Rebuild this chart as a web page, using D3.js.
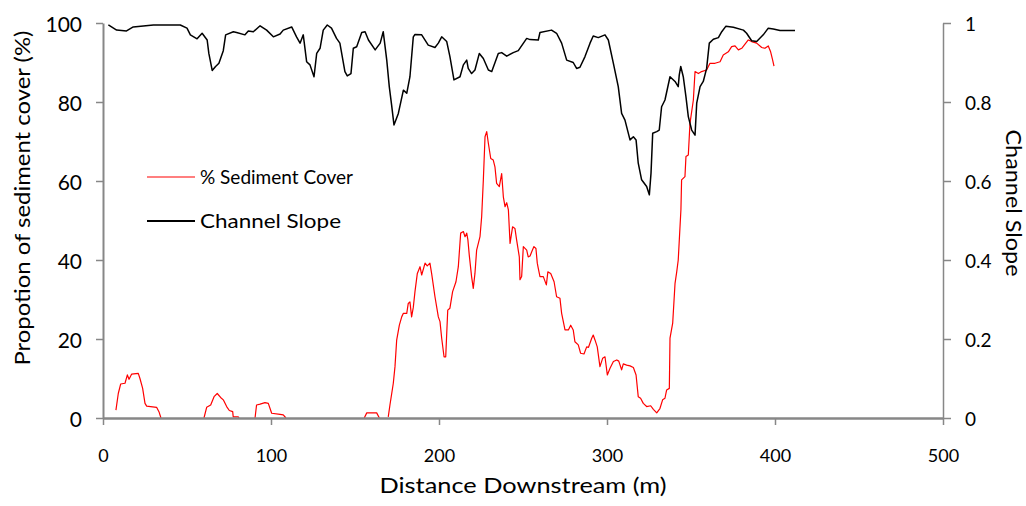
<!DOCTYPE html>
<html>
<head>
<meta charset="utf-8">
<script src="https://cdn.jsdelivr.net/npm/d3@7"></script>
<style>
  html, body { margin: 0; padding: 0; background: #fff; }
  svg { display: block; font-family: Lato, "Open Sans", sans-serif; }
</style>
</head>
<body>
<svg id="chart" width="1026" height="506"></svg>
<script>
// ---------- DATA ----------
const xTicks = [0, 100, 200, 300, 400, 500];
const xTickLabels = ["0", "100", "200", "300", "400", "500"];
const leftTicks = [0, 20, 40, 60, 80, 100];
const leftTickLabels = ["0", "20", "40", "60", "80", "100"];
const rightTicks = [0, 0.2, 0.4, 0.6, 0.8, 1];
const rightTickLabels = ["0", "0.2", "0.4", "0.6", "0.8", "1"];

const seriesNames = ["% Sediment Cover", "Channel Slope"];
const xTitle = "Distance Downstream (m)";
const leftTitle = "Propotion of sediment cover (%)";
const rightTitle = "Channel Slope";

// % Sediment Cover (left axis); null = no cover recorded (line hidden)
const sedimentDistance = [7.7, 9.1, 10.5, 13.1, 14.5, 15.5, 17, 21, 22, 23.6, 25, 26, 31.9, 33.3, 34.5, 47,
  60.1, 61.7, 64.1, 66.1, 68, 70, 71.6, 73.6, 75.2, 77.2, 77.5, 80.5, 81, 86,
  90.5, 91.4, 93.5, 96.4, 98.4, 100.4, 105.4, 107.3, 108.9, 130,
  155.5, 157, 162.9, 164.5, 167, 169.8, 170.8, 172.8, 173.8, 174.8, 176.4, 177.8, 178.8, 180.8, 181.7, 182.7,
  183.7, 184.7, 185.7, 187.1, 188.7, 189.7, 191.7, 193, 194.6, 195.6, 197.6, 199.6, 200.6, 201.6, 203, 204,
  205.2, 206.5, 208.1, 210.1, 211.5, 212.9, 214.5, 215.5, 216.5, 217.2, 218, 219.4, 220.4, 221.4, 222.4,
  224.4, 225.4, 226.4, 227.4, 228.4, 229.4, 230.8, 232.3, 233.3, 234.3, 235.9, 237.3, 238.3, 239.3, 240.3,
  241.3, 242.3, 243.8, 245.2, 246.2, 247.8, 248.2, 249.2, 250.2, 252.2, 253.1, 254.2, 255.2, 256.5, 257.7,
  258.5, 259.1, 260.1, 262.1, 263.9, 264.8, 266.5, 268.5, 270, 272, 273, 275, 277, 278.4, 279.9, 280.9,
  282.9, 284.3, 286.3, 287.9, 289, 290.9, 291.8, 292.9, 294.2, 295.8, 297.4, 298.8, 300.2, 301.8, 303.8,
  305.8, 307, 308.7, 309.7, 311.7, 313.7, 315.7, 317.3, 318.6, 320, 321.6, 323.6, 326, 327.6, 329.6, 331.5,
  333.1, 334.5, 335.5, 337.1, 337.5, 339.1, 340.5, 341.5, 342.4, 344, 344.4, 346.4, 347, 348.4, 349.4,
  351.4, 352.4, 354.4, 356.3, 359.3, 361.3, 364.3, 367.3, 369.2, 372.2, 374.2, 376.2, 378.2, 380.2, 384.1,
  386.1, 389.1, 392.1, 394, 396, 397.4, 398.6, 399.4];
const sedimentCover = [2.0, 6.2, 8.6, 8.8, 10.9, 9.8, 11.1, 11.3, 10, 7.5, 3.7, 3.0, 2.7, 1.6, 0, null,
  0, 2.7, 3.3, 5.4, 6.2, 5.2, 4.6, 2.9, 1.9, 1.6, 0.3, 0.3, 0, null,
  0, 3.3, 3.5, 3.9, 3.7, 1.2, 0.9, 0.8, 0, null,
  0, 1.3, 1.3, 0, null, 0.3, 3.3, 8.8, 13, 19.7, 23.5, 25.6, 26.5, 26.5, 29, 29.4,
  25.6, 28, 32, 36.6, 38.3, 36.2, 39.2, 38.5, 39.2, 36.6, 30.7, 25.6, 24.4, 20.2, 15.5, 15.5,
  27.3, 27.8, 32, 34.5, 38.3, 46.8, 47.2, 45.9, 46.8, 45.1, 41.3, 35.8, 32.8, 36.6, 42.5,
  45.9, 51, 60.3, 71.2, 72.5, 69.5, 65.7, 65.3, 63.6, 59.4, 58.6, 61.9, 56, 53.5, 54.5,
  52.7, 44.2, 48.4, 48, 45.1, 40.8, 35, 35.8, 43.4, 42.5, 40.8, 41, 42.1, 43.4, 42.9,
  39.2, 37.9, 35.8, 35.8, 33.7, 37, 36.6, 34.5, 30.7, 30.3, 26.5, 22.3, 22.3, 23.5, 22.3, 19.3,
  18.5, 16.4, 16.2, 18, 17.9, 20.2, 21, 19.7, 18, 13, 15.1, 15.5, 10.9, 12.6, 14.3,
  14.7, 14.4, 12.2, 13.7, 13.4, 13.2, 12.8, 10.9, 5.4, 5, 3.7, 2.9, 3.1, 2.2, 1.3, 2.4,
  4.6, 5, 7.1, 7.5, 20.2, 24, 34.1, 37, 40, 52.7, 60.3, 61.1, 66.2, 66.6, 74.6,
  80.5, 87.7, 87.2, 87.7, 88.1, 89.8, 89.8, 90.2, 91.9, 92.7, 94, 94.2, 93.2, 93.6, 95.7,
  95.3, 94.9, 93.8, 93.6, 94.2, 92.7, 90.6, 89.1];

// Channel Slope (right axis)
const slopeDistance = [3.2, 8.1, 14, 18, 30, 46, 50, 52, 56, 59, 62, 63, 65, 67, 69, 71.6, 73, 77.6, 79.5,
  84.5, 86.5, 89.5, 93.5, 97.4, 101.4, 105.4, 107.3, 112.3, 115.2, 117.3, 119.2, 121.2, 123.2, 125.6,
  127.2, 129.2, 131.1, 133.5, 136, 139, 141, 144, 145.4, 147.6, 149, 151, 154, 156, 158, 162, 165, 166.8,
  168.9, 170.4, 171.8, 173.2, 175.8, 178.8, 180.8, 182.7, 184.7, 185.7, 189.7, 193.6, 197.6, 199.6, 201.6,
  204.6, 206.5, 208.9, 212.5, 214.5, 216.5, 217.4, 219.4, 221.4, 224, 226.4, 229.4, 231.4, 235.3, 237.3,
  240.3, 244.2, 247.2, 252.2, 254.2, 259.1, 260.1, 267, 270, 273, 276, 279.9, 281.9, 283.9, 286.9, 289.9,
  291.8, 294.8, 298.8, 300.8, 303.8, 306.7, 308.7, 310.7, 313.7, 315.7, 317.3, 318.6, 320.6, 323.6, 325.2,
  326.2, 327.2, 329.6, 331.1, 332.5, 334.5, 337.5, 340.5, 342.4, 343, 343.9, 345.4, 347, 348.4, 350.4,
  352.4, 353.4, 355.4, 357.3, 359.3, 360.9, 363.3, 366.3, 368.3, 370.8, 375.2, 381.2, 383.1, 386.1, 389.1,
  393, 396, 399, 403, 411.9];
const slopeValue = [0.995, 0.982, 0.98, 0.99, 0.995, 0.995, 0.987, 0.97, 0.96, 0.974, 0.957, 0.923, 0.88,
  0.89, 0.898, 0.93, 0.97, 0.978, 0.976, 0.97, 0.98, 0.978, 0.993, 0.982, 0.965, 0.972, 0.982, 0.99, 0.965,
  0.949, 0.97, 0.902, 0.894, 0.864, 0.923, 0.936, 0.982, 0.995, 0.987, 0.961, 0.949, 0.877, 0.866, 0.872,
  0.936, 0.94, 0.976, 0.978, 0.957, 0.932, 0.949, 0.978, 0.906, 0.839, 0.792, 0.742, 0.771, 0.830, 0.822,
  0.864, 0.965, 0.971, 0.970, 0.944, 0.938, 0.949, 0.965, 0.953, 0.915, 0.856, 0.864, 0.894, 0.906, 0.885,
  0.872, 0.881, 0.923, 0.910, 0.881, 0.877, 0.923, 0.925, 0.916, 0.925, 0.930, 0.961, 0.958, 0.957, 0.976,
  0.982, 0.974, 0.949, 0.906, 0.900, 0.885, 0.888, 0.915, 0.949, 0.967, 0.963, 0.970, 0.957, 0.898, 0.839,
  0.771, 0.754, 0.704, 0.712, 0.704, 0.645, 0.603, 0.586, 0.565, 0.62, 0.721, 0.725, 0.729, 0.788, 0.805,
  0.864, 0.852, 0.839, 0.868, 0.89, 0.864, 0.813, 0.763, 0.729, 0.716, 0.797, 0.839, 0.852, 0.885, 0.949,
  0.959, 0.963, 0.978, 0.992, 0.989, 0.982, 0.974, 0.955, 0.953, 0.970, 0.987, 0.985, 0.981, 0.981];

// ---------- CHART ----------
const svg = d3.select("#chart");
const axisColor = "#878787";
const textColor = "#000";

const x = d3.scaleLinear().domain([0, 500]).range([103, 943]);
const yL = d3.scaleLinear().domain([0, 100]).range([418, 23]);
const yR = d3.scaleLinear().domain([0, 1]).range([418, 23]);

const sediment = sedimentDistance.map((d, i) => ({ x: d, y: sedimentCover[i] }));
const slope = slopeDistance.map((d, i) => ({ x: d, y: slopeValue[i] }));

svg.append("path")
  .datum(sediment)
  .attr("fill", "none")
  .attr("stroke", "#ff0000")
  .attr("stroke-width", 1.2)
  .attr("stroke-linejoin", "round")
  .attr("d", d3.line().defined(d => d.y !== null).x(d => x(d.x)).y(d => yL(d.y)));

svg.append("path")
  .datum(slope)
  .attr("fill", "none")
  .attr("stroke", "#000")
  .attr("stroke-width", 1.5)
  .attr("stroke-linejoin", "round")
  .attr("d", d3.line().x(d => x(d.x)).y(d => yR(d.y)));

// Left axis
const gL = svg.append("g").attr("transform", "translate(103,0)")
  .call(d3.axisLeft(yL).tickValues(leftTicks).tickFormat((d, i) => leftTickLabels[i])
    .tickSizeInner(7).tickSizeOuter(0).tickPadding(14));
gL.select(".domain").attr("stroke", axisColor).attr("stroke-width", 2);
gL.selectAll(".tick line").attr("stroke", axisColor).attr("stroke-width", 1.5);
gL.selectAll(".tick text").attr("fill", textColor).attr("font-size", 21)
  .attr("font-family", "Lato, sans-serif").attr("dy", null).attr("y", 8);

// Right axis
const gR = svg.append("g").attr("transform", "translate(943,0)")
  .call(d3.axisRight(yR).tickValues(rightTicks).tickFormat((d, i) => rightTickLabels[i])
    .tickSizeInner(8).tickSizeOuter(0).tickPadding(14));
gR.select(".domain").attr("stroke", axisColor).attr("stroke-width", 1.5);
gR.selectAll(".tick line").attr("stroke", axisColor).attr("stroke-width", 1.5);
gR.selectAll(".tick text").attr("fill", textColor).attr("font-size", 19)
  .attr("font-family", "Lato, sans-serif").attr("dy", null).attr("y", 7);

// Bottom axis
const gB = svg.append("g").attr("transform", "translate(0,418)")
  .call(d3.axisBottom(x).tickValues(xTicks).tickFormat((d, i) => xTickLabels[i])
    .tickSizeInner(7).tickSizeOuter(0).tickPadding(10));
gB.select(".domain").attr("stroke", axisColor).attr("stroke-width", 2.4);
gB.selectAll(".tick line").attr("stroke", axisColor).attr("stroke-width", 1.5);
gB.selectAll(".tick text").attr("fill", textColor).attr("font-size", 18)
  .attr("font-family", "Lato, sans-serif").attr("dy", null).attr("y", 44);

// Titles
svg.append("text")
  .attr("x", 523).attr("y", 493)
  .attr("text-anchor", "middle").attr("font-size", 22).attr("fill", textColor)
  .attr("textLength", 287).attr("lengthAdjust", "spacingAndGlyphs")
  .text(xTitle);

svg.append("text")
  .attr("transform", "translate(30,198) rotate(-90)")
  .attr("text-anchor", "middle").attr("font-size", 21).attr("fill", textColor)
  .attr("textLength", 335).attr("lengthAdjust", "spacingAndGlyphs")
  .text(leftTitle);

svg.append("text")
  .attr("transform", "translate(1006,203) rotate(90)")
  .attr("text-anchor", "middle").attr("font-size", 21).attr("fill", textColor)
  .attr("textLength", 147).attr("lengthAdjust", "spacingAndGlyphs")
  .text(rightTitle);

// Legend
const legendColors = ["#ff0000", "#000"];
const legendWidths = [1.2, 2];
const legendTextLen = [153, 141];
seriesNames.forEach((name, i) => {
  const cy = 177 + i * 44;
  svg.append("line")
    .attr("x1", 147).attr("x2", 195).attr("y1", cy).attr("y2", cy)
    .attr("stroke", legendColors[i]).attr("stroke-width", legendWidths[i]);
  svg.append("text")
    .attr("x", 200).attr("y", cy + 7)
    .attr("font-size", 20).attr("fill", textColor)
    .attr("textLength", legendTextLen[i]).attr("lengthAdjust", "spacingAndGlyphs")
    .text(name);
});
</script>
</body>
</html>
